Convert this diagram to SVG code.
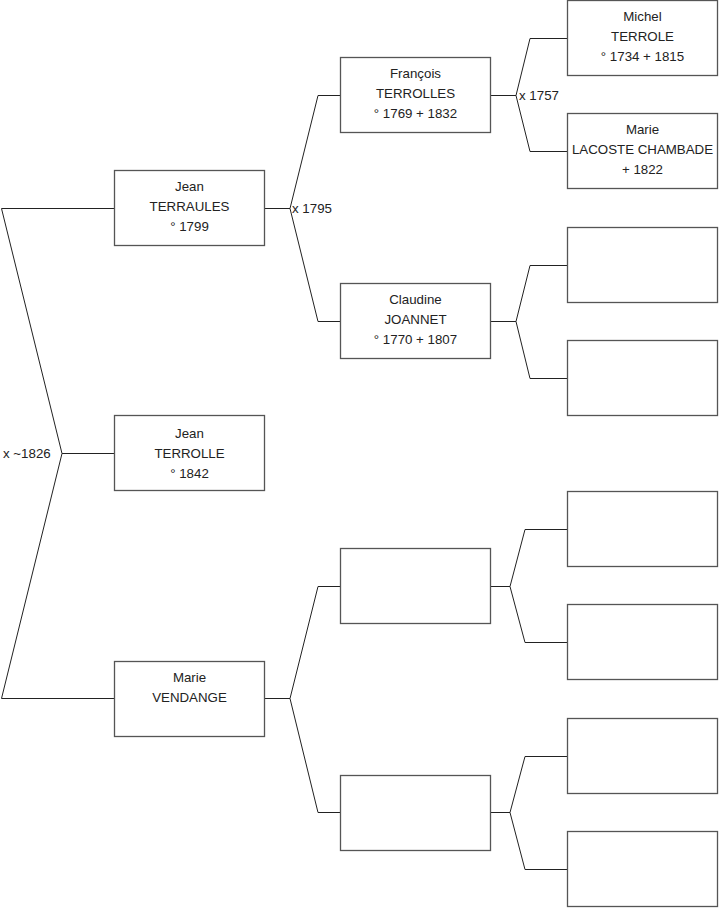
<svg xmlns="http://www.w3.org/2000/svg" width="719" height="908" viewBox="0 0 719 908">
<style>
.box{fill:#fff;stroke:#555;stroke-width:1.3}
.c{fill:none;stroke:#222;stroke-width:1}
text{font-family:"Liberation Sans",Arial,sans-serif;font-size:13.3px;fill:#222}
.m{text-anchor:middle}
</style>
<rect width="719" height="908" fill="#fff"/>
<g id="connectors">
<path class="c" d="M114,208.5H1.5L62,453.5L1.5,698.5H114M62,453.5H114"/>
<path class="c" d="M265,208.5H290L318,95.5H340M290,208.5L318,321.5H340"/>
<path class="c" d="M491,95.5H516L530,38.5H567M516,95.5L530,151.5H567"/>
<path class="c" d="M491,321.5H516L530,265.5H567M516,321.5L530,378.5H567"/>
<path class="c" d="M491,586.5H510L525,529.5H567M510,586.5L525,642.5H567"/>
<path class="c" d="M491,812.5H510L525,756.5H567M510,812.5L525,869.5H567"/>
<path class="c" d="M265,698.5H290L318,586.5H340M290,698.5L318,812.5H340"/>
<text x="3" y="458">x ~1826</text>
<text x="292" y="213">x 1795</text>
<text x="519" y="100">x 1757</text>
</g>
<g id="n1"><rect class="box" x="114.5" y="415.5" width="150" height="75"/><text class="m" x="189.5" y="438">Jean</text><text class="m" x="189.5" y="458">TERROLLE</text><text class="m" x="189.5" y="478">° 1842</text></g>
<g id="n2"><rect class="box" x="114.5" y="170.5" width="150" height="75"/><text class="m" x="189.5" y="191">Jean</text><text class="m" x="189.5" y="211">TERRAULES</text><text class="m" x="189.5" y="231">° 1799</text></g>
<g id="n3"><rect class="box" x="114.5" y="661.5" width="150" height="75"/><text class="m" x="189.5" y="682">Marie</text><text class="m" x="189.5" y="702">VENDANGE</text></g>
<g id="n4"><rect class="box" x="340.5" y="57.5" width="150" height="75"/><text class="m" x="415.5" y="78">François</text><text class="m" x="415.5" y="98">TERROLLES</text><text class="m" x="415.5" y="118">° 1769 + 1832</text></g>
<g id="n5"><rect class="box" x="340.5" y="283.5" width="150" height="75"/><text class="m" x="415.5" y="304">Claudine</text><text class="m" x="415.5" y="324">JOANNET</text><text class="m" x="415.5" y="344">° 1770 + 1807</text></g>
<g id="n6"><rect class="box" x="340.5" y="548.5" width="150" height="75"/></g>
<g id="n7"><rect class="box" x="340.5" y="775.5" width="150" height="75"/></g>
<g id="n8"><rect class="box" x="567.5" y="0.5" width="150" height="75"/><text class="m" x="642.5" y="21">Michel</text><text class="m" x="642.5" y="41">TERROLE</text><text class="m" x="642.5" y="61">° 1734 + 1815</text></g>
<g id="n9"><rect class="box" x="567.5" y="113.5" width="150" height="75"/><text class="m" x="642.5" y="134">Marie</text><text class="m" x="642.5" y="154">LACOSTE CHAMBADE</text><text class="m" x="642.5" y="174">+ 1822</text></g>
<g id="n10"><rect class="box" x="567.5" y="227.5" width="150" height="75"/></g>
<g id="n11"><rect class="box" x="567.5" y="340.5" width="150" height="75"/></g>
<g id="n12"><rect class="box" x="567.5" y="491.5" width="150" height="75"/></g>
<g id="n13"><rect class="box" x="567.5" y="604.5" width="150" height="75"/></g>
<g id="n14"><rect class="box" x="567.5" y="718.5" width="150" height="75"/></g>
<g id="n15"><rect class="box" x="567.5" y="831.5" width="150" height="75"/></g>
</svg>
